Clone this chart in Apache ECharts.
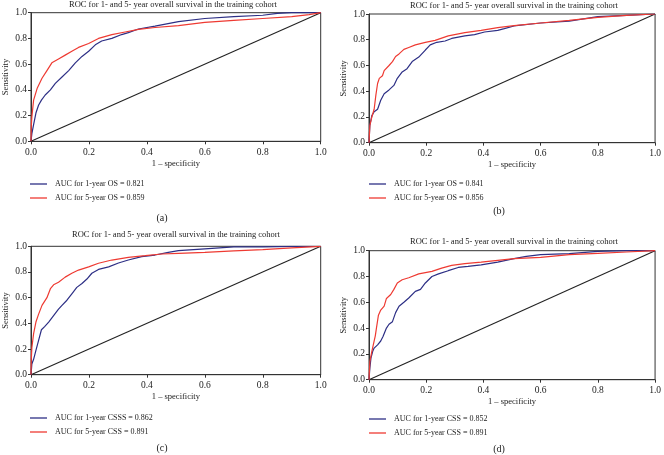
<!DOCTYPE html>
<html>
<head>
<meta charset="utf-8">
<script src="https://cdn.jsdelivr.net/npm/echarts@6/dist/echarts.min.js"></script>
<style>html,body{margin:0;padding:0;background:#fff}#c{width:664px;height:455px}</style>
</head>
<body>
<div id="c"></div>
<script>
// ---- data: [1 - specificity, sensitivity] ----
const rocA_1yr = [[0,0],[0.003,0.06],[0.009,0.13],[0.017,0.22],[0.026,0.28],[0.036,0.32],[0.049,0.36],[0.067,0.40],[0.084,0.45],[0.107,0.50],[0.130,0.55],[0.153,0.61],[0.176,0.66],[0.199,0.70],[0.222,0.75],[0.244,0.78],[0.279,0.80],[0.313,0.83],[0.336,0.845],[0.371,0.873],[0.428,0.896],[0.509,0.93],[0.6,0.955],[0.7,0.97],[0.8,0.98],[0.85,0.995],[0.9,1.0],[1,1]];
const rocA_5yr = [[0,0],[0.001,0.12],[0.003,0.19],[0.009,0.32],[0.021,0.41],[0.038,0.49],[0.055,0.55],[0.072,0.61],[0.095,0.64],[0.118,0.67],[0.141,0.70],[0.164,0.73],[0.199,0.76],[0.233,0.80],[0.279,0.83],[0.325,0.85],[0.371,0.87],[0.428,0.885],[0.509,0.90],[0.6,0.925],[0.7,0.94],[0.8,0.955],[0.9,0.97],[0.96,0.985],[1,1]];
const rocB_1yr = [[0,0],[0.003,0.135],[0.010,0.21],[0.018,0.24],[0.030,0.26],[0.041,0.33],[0.053,0.38],[0.070,0.41],[0.087,0.445],[0.099,0.50],[0.116,0.55],[0.133,0.575],[0.151,0.63],[0.174,0.665],[0.197,0.72],[0.214,0.76],[0.237,0.78],[0.266,0.79],[0.289,0.81],[0.335,0.83],[0.369,0.84],[0.404,0.86],[0.450,0.873],[0.473,0.886],[0.507,0.907],[0.6,0.93],[0.7,0.945],[0.8,0.98],[0.9,0.99],[1,1]];
const rocB_5yr = [[0,0],[0.003,0.135],[0.010,0.20],[0.018,0.26],[0.024,0.37],[0.030,0.46],[0.036,0.50],[0.047,0.52],[0.053,0.56],[0.070,0.60],[0.082,0.63],[0.093,0.67],[0.105,0.69],[0.122,0.725],[0.139,0.74],[0.162,0.76],[0.197,0.78],[0.231,0.795],[0.277,0.83],[0.335,0.855],[0.392,0.873],[0.450,0.894],[0.507,0.91],[0.6,0.93],[0.7,0.95],[0.8,0.974],[0.9,0.99],[1,1]];
const rocC_1yr = [[0,0],[0.003,0.083],[0.009,0.12],[0.017,0.19],[0.026,0.265],[0.036,0.35],[0.047,0.374],[0.061,0.41],[0.078,0.46],[0.095,0.51],[0.107,0.54],[0.124,0.58],[0.141,0.63],[0.158,0.68],[0.176,0.71],[0.193,0.745],[0.210,0.79],[0.233,0.82],[0.268,0.84],[0.302,0.87],[0.336,0.893],[0.382,0.92],[0.428,0.932],[0.474,0.953],[0.509,0.966],[0.6,0.98],[0.7,0.995],[0.8,0.995],[0.9,1],[1,1]];
const rocC_5yr = [[0,0],[0.001,0.12],[0.003,0.21],[0.009,0.32],[0.017,0.41],[0.026,0.47],[0.038,0.54],[0.055,0.60],[0.067,0.67],[0.078,0.70],[0.095,0.72],[0.118,0.76],[0.141,0.79],[0.164,0.815],[0.199,0.84],[0.233,0.868],[0.279,0.893],[0.336,0.914],[0.394,0.927],[0.451,0.94],[0.509,0.945],[0.6,0.953],[0.7,0.965],[0.8,0.974],[0.9,0.987],[1,1]];
const rocD_1yr = [[0,0],[0.003,0.09],[0.007,0.17],[0.013,0.22],[0.018,0.245],[0.030,0.27],[0.041,0.30],[0.049,0.335],[0.061,0.40],[0.070,0.43],[0.082,0.45],[0.093,0.52],[0.105,0.57],[0.122,0.60],[0.139,0.633],[0.162,0.685],[0.180,0.70],[0.197,0.75],[0.220,0.80],[0.243,0.82],[0.277,0.845],[0.312,0.87],[0.346,0.878],[0.392,0.89],[0.450,0.912],[0.507,0.938],[0.55,0.956],[0.6,0.969],[0.7,0.977],[0.8,0.995],[0.9,1],[1,1]];
const rocD_5yr = [[0,0],[0.003,0.14],[0.010,0.22],[0.015,0.27],[0.022,0.34],[0.026,0.40],[0.033,0.50],[0.041,0.54],[0.053,0.57],[0.061,0.63],[0.076,0.66],[0.087,0.70],[0.099,0.75],[0.116,0.775],[0.139,0.79],[0.174,0.82],[0.220,0.84],[0.254,0.865],[0.289,0.886],[0.335,0.90],[0.392,0.912],[0.450,0.925],[0.507,0.938],[0.6,0.948],[0.7,0.969],[0.8,0.98],[0.9,0.99],[1,1]];
const reference = [[0,0],[1,1]];

const panelTitle = 'ROC for 1- and 5- year overall survival in the training cohort';
const panelLetters = ['(a)','(b)','(c)','(d)'];
const names1yr = ['AUC for 1-year OS = 0.821','AUC for 1-year OS = 0.841','AUC for 1-year CSSS = 0.862','AUC for 1-year CSS = 0.852'];
const names5yr = ['AUC for 5-year OS = 0.859','AUC for 5-year OS = 0.856','AUC for 5-year CSS = 0.891','AUC for 5-year CSS = 0.891'];
const curves1yr = [rocA_1yr, rocB_1yr, rocC_1yr, rocD_1yr];
const curves5yr = [rocA_5yr, rocB_5yr, rocC_5yr, rocD_5yr];

// ---- layout ----
const FONT = 'Liberation Serif';
const TXT = '#222';
const BLUE = '#2d2f85';
const RED = '#ee3a32';
const grids = [
  {left:30.3, top:12.7, width:290.4, height:128.6},
  {left:369, top:14, width:289.7, height:128.7},
  {left:30.3, top:246.3, width:290.4, height:128.4},
  {left:369, top:250.7, width:289.7, height:129}
];
const titlePos = [[173,5],[514,5.5],[176,235],[514,241.5]];
const letterPos = [[162,218],[499,211],[162,448],[499,449]];
const legendPos = [[30,180],[369,180],[30,414],[369,415]];

const xAxes = [], yAxes = [], series = [], legends = [], graphics = [];
grids.forEach((g, i) => {
  const axisCommon = {
    type:'value', min:0, max:1, interval:0.2, gridIndex:i,
    axisLine:{show:true, onZero:false, lineStyle:{color:'#333', width:1}},
    axisTick:{show:true, length:3, lineStyle:{color:'#333'}},
    splitLine:{show:false},
    axisLabel:{fontFamily:FONT, fontSize:9.5, color:TXT, formatter:v => v.toFixed(1)},
    nameTextStyle:{fontFamily:FONT, fontSize:8.5, color:TXT},
    nameLocation:'middle'
  };
  xAxes.push(Object.assign({}, axisCommon, {name:'1 – specificity', nameGap:18, axisLabel:Object.assign({}, axisCommon.axisLabel, {margin:6})}));
  yAxes.push(Object.assign({}, axisCommon, {name:'Sensitivity', nameGap:21, axisLabel:Object.assign({}, axisCommon.axisLabel, {margin:4})}));
  series.push({type:'line', xAxisIndex:i, yAxisIndex:i, data:reference, symbol:'none', silent:true,
    lineStyle:{color:'#222', width:1.1}, z:1});
  series.push({type:'line', name:names1yr[i], xAxisIndex:i, yAxisIndex:i, data:curves1yr[i], symbol:'none',
    lineStyle:{color:BLUE, width:1.2}, itemStyle:{color:BLUE}, z:2});
  series.push({type:'line', name:names5yr[i], xAxisIndex:i, yAxisIndex:i, data:curves5yr[i], symbol:'none',
    lineStyle:{color:RED, width:1.2}, itemStyle:{color:RED}, z:3});
  legends.push({
    data:[names1yr[i], names5yr[i]], orient:'vertical', left:legendPos[i][0], top:legendPos[i][1],
    padding:0, icon:'rect', itemWidth:17, itemHeight:1.3, itemGap:6, selectedMode:false,
    itemStyle:{borderWidth:0},
    textStyle:{fontFamily:FONT, fontSize:8, lineHeight:8, color:TXT, padding:[0,0,0,3]}
  });
  graphics.push({type:'text', x:titlePos[i][0], y:titlePos[i][1],
    style:{text:panelTitle, font:'8.5px "Liberation Serif"', fill:TXT, textAlign:'center', textVerticalAlign:'middle'}});
  graphics.push({type:'text', x:letterPos[i][0], y:letterPos[i][1],
    style:{text:panelLetters[i], font:'10px "Liberation Serif"', fill:TXT, textAlign:'center', textVerticalAlign:'middle'}});
});

const chart = echarts.init(document.getElementById('c'), null, {renderer:'canvas'});
chart.setOption({
  animation:false,
  backgroundColor:'#fff',
  grid:grids.map(g => Object.assign({show:true, borderColor:'#333', borderWidth:1, containLabel:false}, g)),
  xAxis:xAxes,
  yAxis:yAxes,
  legend:legends,
  series:series,
  graphic:graphics
});
</script>
</body>
</html>
